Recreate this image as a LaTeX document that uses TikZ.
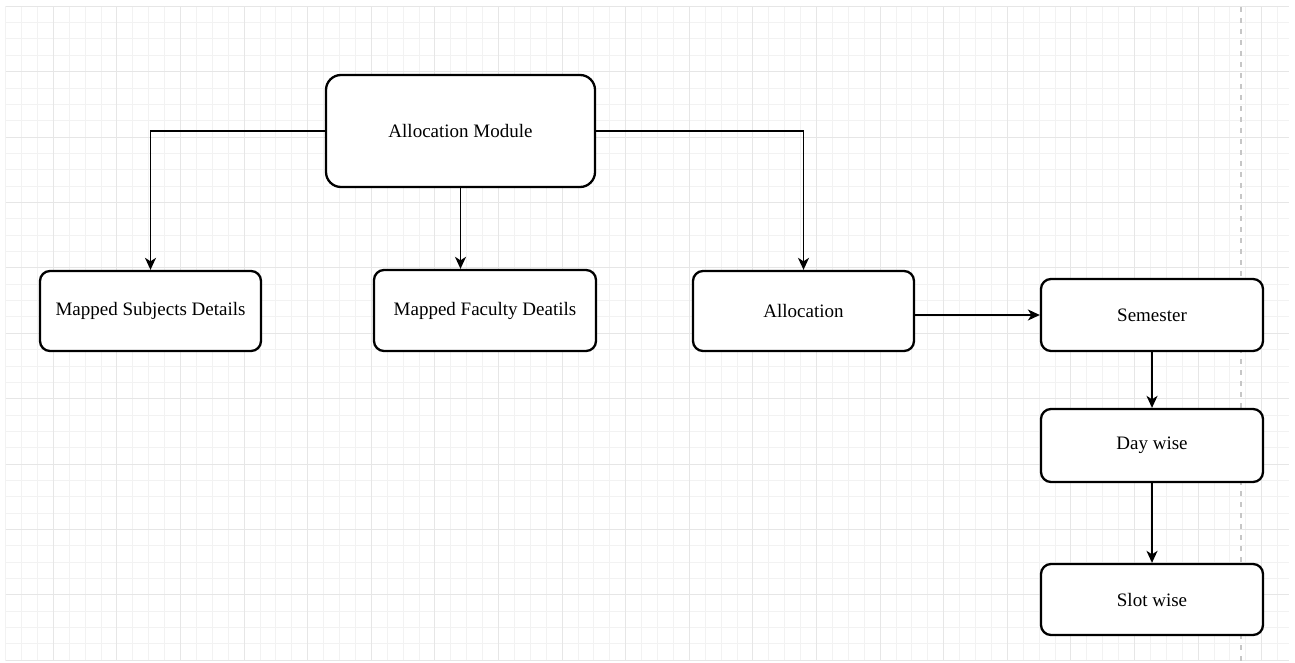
\documentclass[tikz,border=0pt]{standalone}
\usepackage{fontspec}
\setmainfont{Liberation Serif}
\usetikzlibrary{arrows.meta, positioning}

\definecolor{gridminor}{HTML}{F2F2F2}
\definecolor{gridmajor}{HTML}{E6E6E6}
\tikzset{
  box/.style={draw, line width=2.3pt, fill=white, rounded corners=10pt,
    font=\fontsize{19}{22}\selectfont, inner sep=0pt},
  arr/.style={line width=1.8pt, -{Stealth[length=12pt, width=11pt, inset=3.5pt]}}
}

\begin{document}
\begin{tikzpicture}[x=1pt, y=-1pt]
\useasboundingbox (0,0) rectangle (1295,663);
% Background grid
\foreach \i [evaluate=\i as \gx using 5.6+\i*15.9] in {0,...,80}
  \draw[gridminor, line width=1pt] (\gx,6.3) -- (\gx,661);
\foreach \j [evaluate=\j as \gy using 6.3+\j*16.35] in {0,...,40}
  \draw[gridminor, line width=1pt] (5.6,\gy) -- (1289,\gy);
\foreach \i [evaluate=\i as \gx using 53.3+\i*63.6] in {0,...,19}
  \draw[gridmajor, line width=1pt] (\gx,6.3) -- (\gx,661);
\foreach \j [evaluate=\j as \gy using 6.3+\j*65.4] in {0,...,10}
  \draw[gridmajor, line width=1pt] (5.6,\gy) -- (1289,\gy);
% Page break
\draw[gray!45, line width=1.5pt, dash pattern=on 5pt off 6pt] (1241,7) -- (1241,662);
% Boxes
\node[box, rounded corners=15pt, minimum width=269pt, minimum height=112pt] (mod) at (460.5,131) {Allocation Module};
\node[box, minimum width=221pt, minimum height=80pt] (subj) at (150.5,311) {Mapped Subjects Details};
\node[box, minimum width=222pt, minimum height=81pt] (fac) at (485,310.5) {Mapped Faculty Deatils};
\node[box, minimum width=221pt, minimum height=80pt] (alloc) at (803.5,311) {Allocation};
\node[box, minimum width=222pt, minimum height=72pt] (sem) at (1152,315) {Semester};
\node[box, minimum width=222pt, minimum height=73pt] (day) at (1152,445.5) {Day wise};
\node[box, minimum width=222pt, minimum height=71pt] (slot) at (1152,599.5) {Slot wise};
% Connectors
\draw[arr] (mod.west) -| (subj.north);
\draw[arr] (mod.south) -- (mod.south |- fac.north);
\draw[arr] (mod.east) -| (alloc.north);
\draw[arr] (alloc.east |- sem.west) -- (sem.west);
\draw[arr] (sem.south) -- (day.north);
\draw[arr] (day.south) -- (slot.north);
\end{tikzpicture}
\end{document}
